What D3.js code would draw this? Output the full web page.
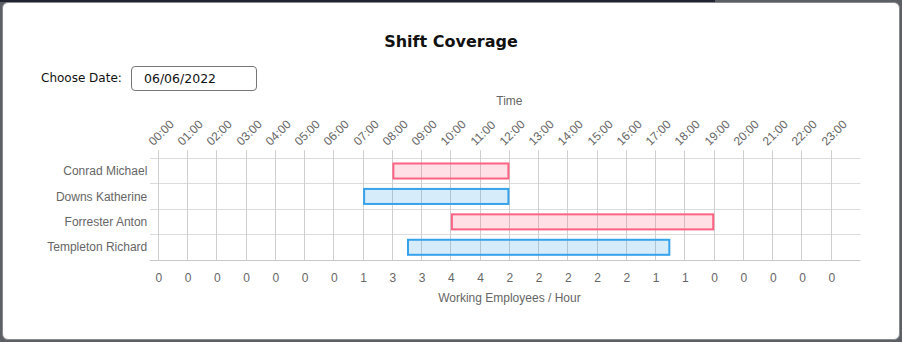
<!DOCTYPE html>
<html>
<head>
<meta charset="utf-8">
<script src="https://cdn.jsdelivr.net/npm/d3@7"></script>
<style>
  html, body { margin: 0; padding: 0; width: 902px; height: 342px; overflow: hidden; background: #5c5f66; }
  #topstrip { position: absolute; left: 0; top: 0; width: 715px; height: 2px; background: #1f2430; }
  #modal { position: absolute; left: 2px; top: 2px; width: 896px; height: 336px; background: #fff;
           border: 1px solid #8a8a8a; border-radius: 6px; }
  svg { position: absolute; left: 0; top: 0; }
</style>
</head>
<body>
<div id="topstrip"></div>
<div id="modal"></div>
<svg id="chart" width="902" height="342"></svg>
<script>
const employees = ["Conrad Michael", "Downs Katherine", "Forrester Anton", "Templeton Richard"];
const shiftStart = [8, 7, 10, 8.5];
const shiftEnd = [12, 12, 19, 17.5];
const shiftColor = ["pink", "blue", "pink", "blue"];
const hourLabels = ["00:00","01:00","02:00","03:00","04:00","05:00","06:00","07:00","08:00","09:00","10:00","11:00",
                    "12:00","13:00","14:00","15:00","16:00","17:00","18:00","19:00","20:00","21:00","22:00","23:00"];
const workingCounts = [0,0,0,0,0,0,0,1,3,3,4,4,2,2,2,2,2,1,1,0,0,0,0,0];
const chartTitle = "Shift Coverage";
const dateLabel = "Choose Date:";
const dateValue = "06/06/2022";

const palette = {
  pink: { stroke: "rgb(255,99,132)", fill: "rgba(255,99,132,0.2)" },
  blue: { stroke: "rgb(54,162,235)", fill: "rgba(54,162,235,0.2)" }
};

const svg = d3.select("#chart");
const plotLeft = 158.3, plotRight = 860.5, plotTop = 158.3, plotBottom = 260;
const x = d3.scaleLinear().domain([0, 24]).range([plotLeft, plotRight]);
const y = d3.scaleBand().domain(employees).range([plotTop, plotBottom]);
const hours = d3.range(hourLabels.length);
const px = v => Math.floor(v) + 0.5;

// Title
svg.append("text").attr("x", 451).attr("y", 47).attr("text-anchor", "middle")
  .style("font-family", "DejaVu Sans").style("font-weight", "bold").style("font-size", "16px")
  .attr("fill", "#111").text(chartTitle);

// Date picker
svg.append("text").attr("x", 41).attr("y", 82)
  .style("font-family", "DejaVu Sans").style("font-size", "12px").attr("fill", "#111").text(dateLabel);
svg.append("rect").attr("x", 131.5).attr("y", 66.5).attr("width", 125).attr("height", 24).attr("rx", 3.5)
  .attr("fill", "#fff").attr("stroke", "#767676");
svg.append("text").attr("x", 144).attr("y", 83)
  .style("font-family", "DejaVu Sans").style("font-size", "12.5px").attr("fill", "#111").text(dateValue);

const font = "'Liberation Sans', Arial, sans-serif";

// Horizontal grid
const hLines = y.domain().map(d => y(d)).concat([plotBottom]);
svg.append("g").selectAll("line").data(hLines).join("line")
  .attr("x1", 150).attr("x2", plotRight).attr("y1", d => px(d)).attr("y2", d => px(d))
  .attr("stroke", (d, i) => (i === hLines.length - 1 ? "#c8c8c8" : "#dcdcdc"));

// Top axis (time)
const topAxis = d3.axisTop(x).tickValues(hours).tickFormat(i => hourLabels[i]).tickSize(0);
const gTop = svg.append("g").attr("transform", `translate(0,${plotTop})`).call(topAxis);
gTop.select(".domain").remove();
gTop.selectAll(".tick").attr("transform", d => `translate(${px(x(d))},0)`);
gTop.selectAll(".tick line").attr("y1", -8).attr("y2", plotBottom - plotTop).attr("stroke", "#cfcfcf");
gTop.selectAll(".tick text")
  .attr("text-anchor", "start").attr("y", 0).attr("dy", null)
  .attr("transform", "translate(-5,-12) rotate(-45)")
  .style("font-family", font).style("font-size", "12px").attr("fill", "#666");

svg.append("text").attr("x", (plotLeft + plotRight) / 2).attr("y", 105).attr("text-anchor", "middle")
  .style("font-family", font).style("font-size", "12px").attr("fill", "#666").text("Time");

// Bottom axis (working counts)
const bottomAxis = d3.axisBottom(x).tickValues(hours).tickFormat(i => workingCounts[i]).tickSize(0);
const gBot = svg.append("g").attr("transform", `translate(0,${plotBottom})`).call(bottomAxis);
gBot.select(".domain").remove();
gBot.selectAll(".tick text").attr("y", 22).attr("dy", null)
  .style("font-family", font).style("font-size", "12px").attr("fill", "#666");

svg.append("text").attr("x", (plotLeft + plotRight) / 2).attr("y", 302).attr("text-anchor", "middle")
  .style("font-family", font).style("font-size", "12px").attr("fill", "#666").text("Working Employees / Hour");

// Left axis (employees)
const leftAxis = d3.axisLeft(y).tickSize(0);
const gLeft = svg.append("g").attr("transform", `translate(${plotLeft},0)`).call(leftAxis);
gLeft.select(".domain").remove();
gLeft.selectAll(".tick text").attr("x", -11).attr("dy", "0.35em")
  .style("font-family", font).style("font-size", "12px").attr("fill", "#666");

// Bars
const barH = y.bandwidth() * 0.67;
svg.append("g").selectAll("rect").data(employees).join("rect")
  .attr("x", (d, i) => x(shiftStart[i]) + 1)
  .attr("width", (d, i) => x(shiftEnd[i]) - x(shiftStart[i]) - 2)
  .attr("y", d => y(d) + (y.bandwidth() - barH) / 2 + 1)
  .attr("height", barH - 2)
  .attr("fill", (d, i) => palette[shiftColor[i]].fill)
  .attr("stroke", (d, i) => palette[shiftColor[i]].stroke)
  .attr("stroke-width", 2);
</script>
</body>
</html>
